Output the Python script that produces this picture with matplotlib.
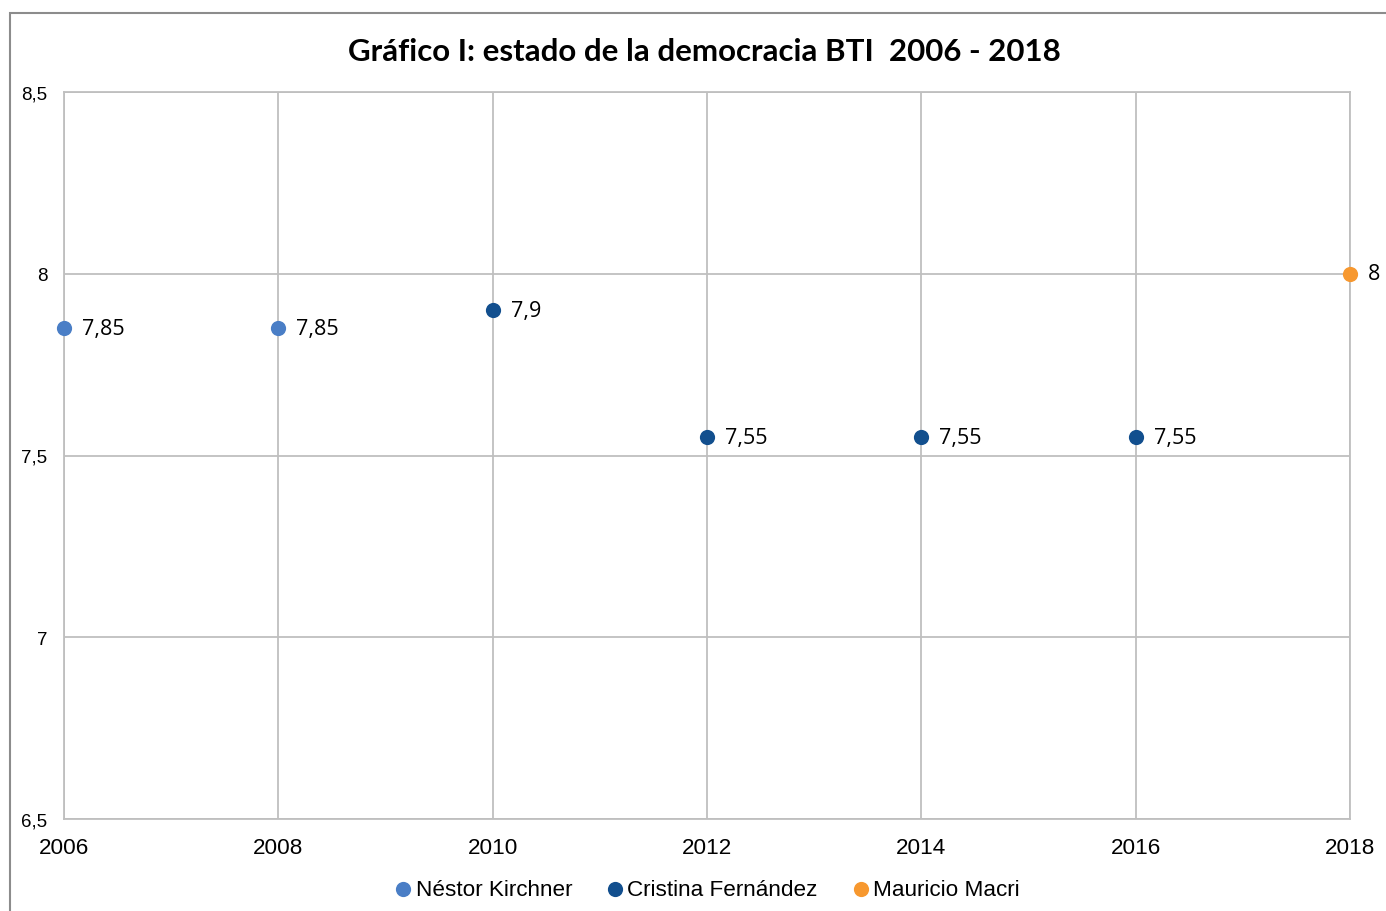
import matplotlib.pyplot as plt
from matplotlib.patches import Rectangle

# datos BTI (estado de la democracia)
anios_kirchner = [2006, 2008]
valores_kirchner = [7.85, 7.85]
anios_fernandez = [2010, 2012, 2014, 2016]
valores_fernandez = [7.9, 7.55, 7.55, 7.55]
anios_macri = [2018]
valores_macri = [8.0]

series = [
    ('Néstor Kirchner', anios_kirchner, valores_kirchner, '#4a7ec6'),
    ('Cristina Fernández', anios_fernandez, valores_fernandez, '#124f8e'),
    ('Mauricio Macri', anios_macri, valores_macri, '#f7982f'),
]

x_ticks = [2006, 2008, 2010, 2012, 2014, 2016, 2018]
y_ticks = [6.5, 7, 7.5, 8, 8.5]
y_labels = ['6,5', '7', '7,5', '8', '8,5']


def fmt(v):
    s = ('%g' % v).replace('.', ',')
    return s


fig = plt.figure(figsize=(13.86, 9.12), dpi=100)
ax = fig.add_axes([64 / 1386, 1 - 820 / 912, (1350 - 64) / 1386, (820 - 93) / 912])

# marco del gráfico
fig.patches.append(Rectangle((9.5 / 1386, -0.1), 1.2, 1.1 - 13.5 / 912,
                             transform=fig.transFigure, fill=False,
                             edgecolor='#8c8c8c', linewidth=1.5))

for nombre, xs, ys, color in series:
    ax.scatter(xs, ys, s=120, color=color, label=nombre, zorder=3, clip_on=False,
               linewidths=0)
    for x, y in zip(xs, ys):
        ax.annotate(fmt(y), (x, y), xytext=(13, 0), textcoords='offset points',
                    va='center', ha='left', fontsize=15.5, family='Open Sans')

ax.set_xlim(2006, 2018)
ax.set_ylim(6.5, 8.5)
ax.set_xticks(x_ticks)
ax.set_xticklabels([str(a) for a in x_ticks], family='Liberation Sans', fontsize=16.2)
ax.set_yticks(y_ticks)
ax.set_yticklabels(y_labels, family='Liberation Sans', fontsize=13.5)
ax.tick_params(length=0)
ax.tick_params(axis='x', pad=13)
ax.tick_params(axis='y', pad=12)
ax.grid(True, color='#bfbfbf', linewidth=1.3)
for sp in ax.spines.values():
    sp.set_color('#bfbfbf')
    sp.set_linewidth(1.3)
ax.set_axisbelow(True)

fig.text(0.508, 1 - 52 / 912, 'Gráfico I: estado de la democracia BTI  2006 - 2018',
         ha='center', va='center', fontsize=22.5, fontweight='bold', family='Lato')

ax.legend(loc='center', bbox_to_anchor=(0.5, -0.097), ncol=3, frameon=False,
          prop={'family': 'Liberation Sans', 'size': 16.2}, handlelength=0.8,
          handletextpad=0.15, columnspacing=1.5, markerscale=1.0)

fig.savefig('out.png', dpi=100)
